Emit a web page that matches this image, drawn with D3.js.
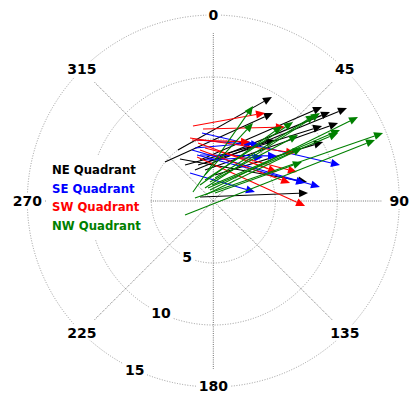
<!DOCTYPE html>
<html>
<head>
<meta charset="utf-8">
<script src="https://cdn.jsdelivr.net/npm/d3@7"></script>
<style>
  html, body { margin: 0; padding: 0; background: #fff; }
  svg { display: block; }
</style>
</head>
<body>
<svg id="chart" width="411" height="393"></svg>
<script>
// Displacement vectors: [startEast, startNorth, endEast, endNorth] in radial units
const neArrows = [
  [-2.85, 4.11, 4.73, 8.39],
  [-3.90, 3.15, 4.81, 7.10],
  [-1.07, 3.31, 8.77, 7.58],
  [-0.67, 3.06, 9.41, 7.18],
  [-1.48, 2.50, 10.78, 7.50],
  [-1.23, 2.90, 8.77, 6.05],
  [-0.67, 2.50, 10.06, 6.29],
  [0.14, 2.10, 8.85, 4.76],
  [-2.28, 2.90, 4.98, 4.92],
  [-2.69, 3.39, 7.56, 1.53],
  [-1.07, 0.32, 7.64, 0.65]
];
const seArrows = [
  [-0.91, 5.48, 10.22, 2.90],
  [-1.72, 4.11, 8.60, 1.13],
  [-1.31, 3.71, 7.40, 1.45],
  [-1.88, 2.26, 3.36, 0.73],
  [-1.48, 4.27, 3.20, 4.68],
  [-1.07, 3.71, 5.14, 3.63],
  [-0.67, 3.31, 4.01, 3.55],
  [-1.31, 4.92, 3.77, 4.52]
];
const swArrows = [
  [-1.64, 6.05, 4.17, 7.10],
  [-0.83, 5.81, 5.78, 5.97],
  [-1.88, 5.08, 6.59, 3.87],
  [-1.23, 4.68, 5.14, 2.34],
  [-0.67, 4.27, 6.75, 2.34],
  [-1.07, 4.11, 6.19, 1.45],
  [-1.31, 3.55, 7.40, -0.40],
  [-1.72, 4.92, 2.96, 4.76]
];
const nwArrows = [
  [-1.64, 0.73, 3.20, 7.66],
  [-0.67, 2.10, 3.20, 6.29],
  [-1.07, 1.29, 5.54, 6.05],
  [-0.67, 1.69, 6.43, 6.37],
  [-0.27, 1.53, 6.83, 5.32],
  [0.14, 1.85, 8.20, 6.94],
  [-0.27, 0.89, 11.67, 6.77],
  [-0.10, 1.29, 10.22, 5.73],
  [-0.43, 1.05, 10.06, 5.48],
  [-0.67, 0.48, 7.15, 4.27],
  [0.14, 0.65, 7.15, 3.15],
  [-1.48, 0.24, 13.69, 5.48],
  [-2.28, -1.13, 13.04, 4.92],
  [-0.67, 1.05, 8.60, 7.10]
];

const seriesNames = ["NE Quadrant", "SE Quadrant", "SW Quadrant", "NW Quadrant"];
const seriesColors = ["#000000", "#0000ff", "#ff0000", "#008000"];
const seriesData = [neArrows, seArrows, swArrows, nwArrows];

const angleTicks = [0, 45, 90, 135, 180, 225, 270, 315];
const radiusTicks = [5, 10, 15];
const radiusMax = 15;
const radialLabelAngle = 205;

const svg = d3.select("#chart");
const cx = 213.3, cy = 201, R = 186;

const r = d3.scaleLinear().domain([0, radiusMax]).range([0, R]);
const x = d3.scaleLinear().domain([-radiusMax, radiusMax]).range([cx - R, cx + R]);
const y = d3.scaleLinear().domain([-radiusMax, radiusMax]).range([cy + R, cy - R]);

// compass bearing (clockwise from north) to screen point
const polar = (deg, rad) => {
  const a = deg * Math.PI / 180;
  return [cx + r(rad) * Math.sin(a), cy - r(rad) * Math.cos(a)];
};

// dotted range rings
svg.append("g")
  .attr("fill", "none")
  .attr("stroke", "#9a9a9a")
  .attr("stroke-width", 1)
  .attr("stroke-dasharray", "1,1.6")
  .selectAll("circle").data(radiusTicks).join("circle")
  .attr("cx", cx).attr("cy", cy).attr("r", d => r(d));

// dotted bearing spokes
svg.append("g")
  .attr("stroke", "#707070")
  .attr("stroke-width", 1)
  .attr("stroke-dasharray", "1,1.2")
  .selectAll("line").data(angleTicks).join("line")
  .attr("x1", cx).attr("y1", cy)
  .attr("x2", d => polar(d, 13.55)[0])
  .attr("y2", d => polar(d, 13.55)[1]);

// vectors
const headLen = 9, headWidth = 8;
seriesData.forEach((arrows, i) => {
  const g = svg.append("g");
  arrows.forEach(a => {
    const x0 = x(a[0]), y0 = y(a[1]), x1 = x(a[2]), y1 = y(a[3]);
    const dx = x1 - x0, dy = y1 - y0, len = Math.hypot(dx, dy);
    const ux = dx / len, uy = dy / len;
    const bx = x1 - ux * headLen, by = y1 - uy * headLen;
    g.append("line")
      .attr("x1", x0).attr("y1", y0).attr("x2", bx).attr("y2", by)
      .attr("stroke", seriesColors[i]).attr("stroke-width", 1.1);
    g.append("path")
      .attr("d", `M${x1},${y1}L${bx - uy * headWidth / 2},${by + ux * headWidth / 2}L${bx + uy * headWidth / 2},${by - ux * headWidth / 2}Z`)
      .attr("fill", seriesColors[i]);
  });
});

// labels with white backing
function label(text, px, py) {
  const g = svg.append("g");
  const t = g.append("text")
    .attr("x", px).attr("y", py)
    .attr("text-anchor", "middle")
    .attr("dominant-baseline", "central")
    .attr("font-family", "DejaVu Sans, sans-serif")
    .attr("font-weight", "bold")
    .attr("font-size", 14)
    .attr("fill", "#000")
    .text(text);
  const bb = t.node().getBBox();
  g.insert("rect", "text")
    .attr("x", bb.x - 2).attr("y", bb.y)
    .attr("width", bb.width + 4).attr("height", bb.height)
    .attr("fill", "#fff");
}

angleTicks.forEach(d => {
  const p = polar(d, radiusMax);
  label(String(d), p[0], Math.min(p[1], 385.5));
});
radiusTicks.forEach(d => {
  const p = polar(radialLabelAngle, d);
  label(String(d), p[0], p[1]);
});

// legend
const legend = svg.append("g");
legend.append("rect")
  .attr("x", 46).attr("y", 156).attr("width", 104).attr("height", 83)
  .attr("fill", "#fff");
legend.selectAll("text").data(seriesNames).join("text")
  .attr("x", 52)
  .attr("y", (d, i) => 174 + i * 18.7)
  .attr("font-family", "DejaVu Sans, sans-serif")
  .attr("font-weight", "bold")
  .attr("font-size", 11.7)
  .attr("fill", (d, i) => seriesColors[i])
  .text(d => d);
</script>
</body>
</html>
